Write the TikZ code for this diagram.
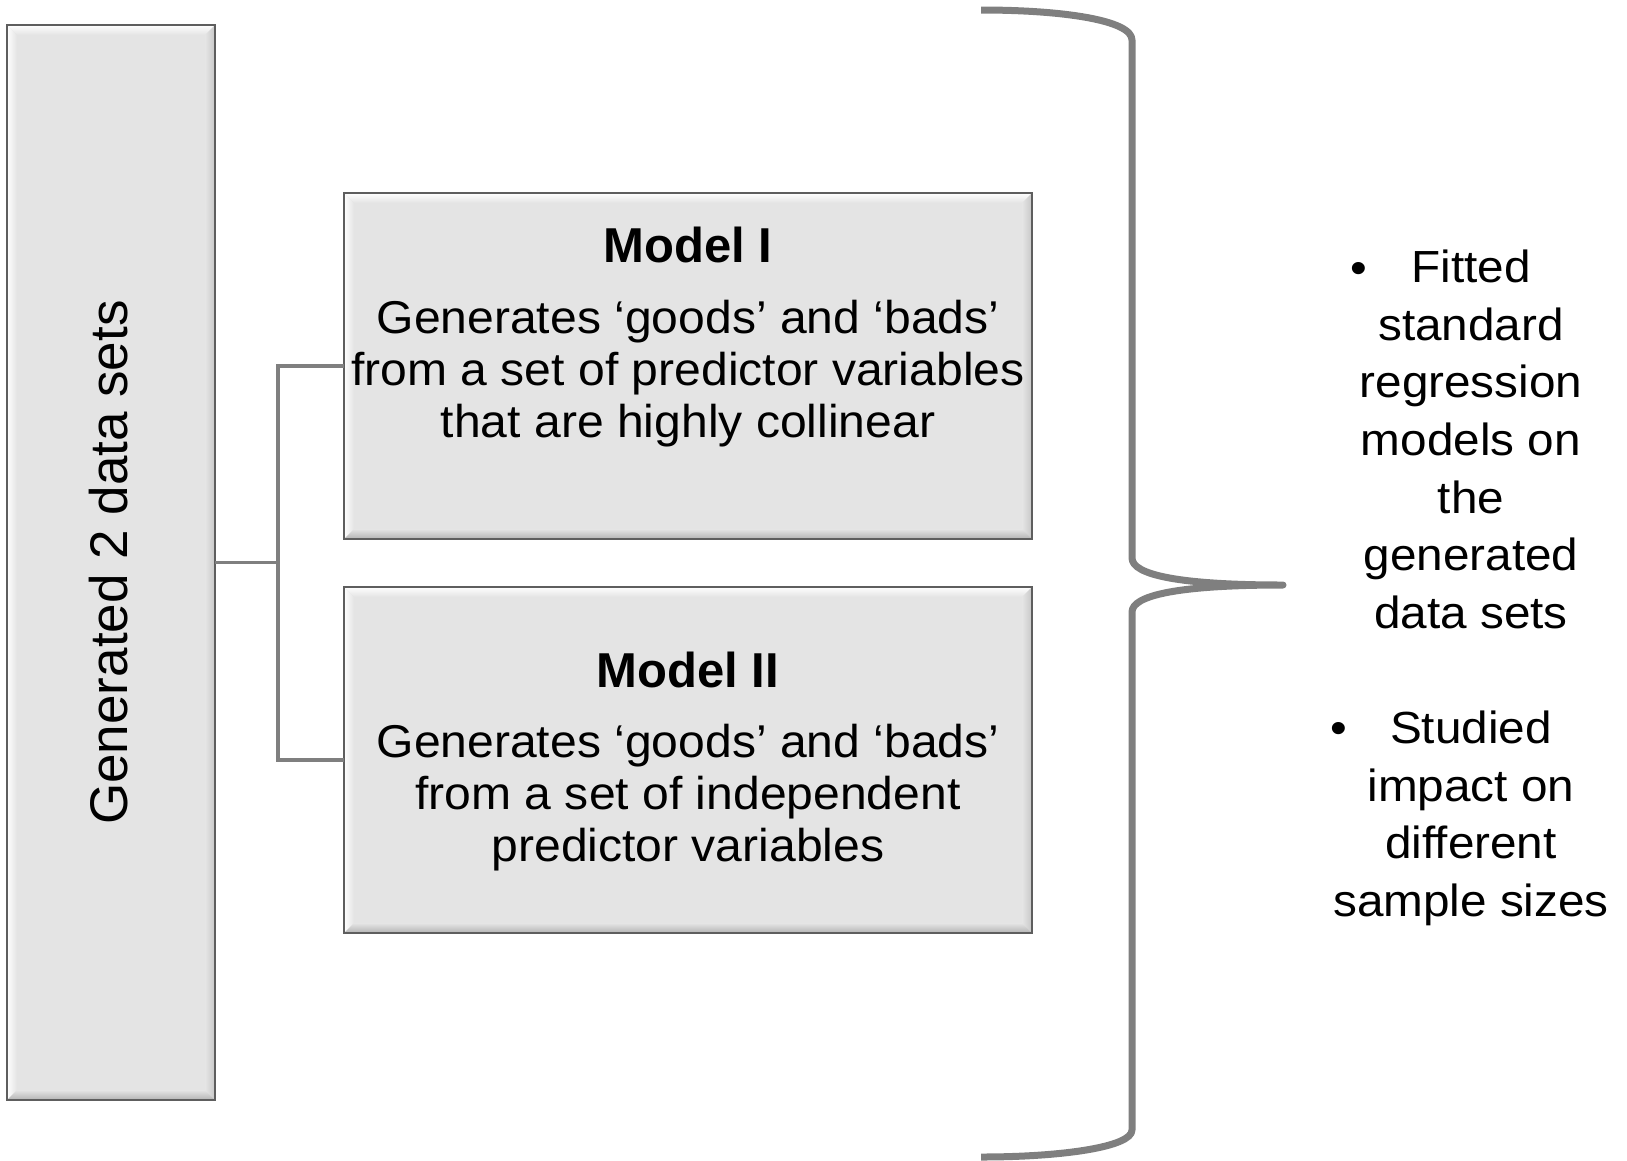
\documentclass[tikz,border=0pt]{standalone}
\usepackage{fontspec}
\setmainfont{Liberation Sans}
\newfontfamily\bodyfont[FakeStretch=1.045]{Liberation Sans}
\newfontfamily\notefont[FakeStretch=1.06]{Liberation Sans}
\usetikzlibrary{calc}

\definecolor{boxfill}{HTML}{E4E4E4}
\definecolor{boxline}{HTML}{5E5E5E}
\definecolor{linkgray}{HTML}{7F7F7F}

% bevelled edges of a panel node: #1 = bevel width, #2 = node name
\newcommand\bevelpanel[2][10]{%
  \shade[top color=white, bottom color=boxfill]
    (#2.north west) -- (#2.north east) -- ($(#2.north east)+(-#1,#1)$) -- ($(#2.north west)+(#1,#1)$) -- cycle;
  \shade[left color=white, right color=boxfill]
    (#2.north west) -- ($(#2.north west)+(#1,#1)$) -- ($(#2.south west)+(#1,-#1)$) -- (#2.south west) -- cycle;
  \shade[left color=boxfill, right color=black!22]
    (#2.north east) -- (#2.south east) -- ($(#2.south east)+(-#1,-#1)$) -- ($(#2.north east)+(-#1,#1)$) -- cycle;
  \shade[top color=boxfill, bottom color=black!30]
    (#2.south west) -- (#2.south east) -- ($(#2.south east)+(-#1,-#1)$) -- ($(#2.south west)+(#1,-#1)$) -- cycle;
  \draw[boxline, line width=2pt] (#2.north west) rectangle (#2.south east);
}

\begin{document}
\begin{tikzpicture}[x=1pt, y=-1pt,
  panel/.style={rectangle, fill=boxfill, draw=none, inner sep=0pt},
  link/.style={draw=linkgray, line width=3.5pt},
  bracestroke/.style={draw=linkgray, line width=7pt, line join=round},
  sidetext/.style={font=\fontsize{53}{60}\selectfont},
  titletext/.style={font=\fontsize{49}{56}\selectfont\bfseries},
  bodytext/.style={align=center, font=\bodyfont\fontsize{46}{52}\selectfont},
  notetext/.style={align=center, font=\notefont\fontsize{45}{57.7}\selectfont},
]
\useasboundingbox (0,0) rectangle (1627,1160);

% panels
\node[panel, minimum width=208pt, minimum height=1075pt] (gen) at (111,562.5) {};
\node[panel, minimum width=688pt, minimum height=346pt] (m1) at (688,366) {};
\node[panel, minimum width=688pt, minimum height=346pt] (m2) at (688,760) {};
\bevelpanel{gen}
\bevelpanel{m1}
\bevelpanel{m2}

% connectors from the data-set panel to both models
\coordinate (split) at (278,562.5);
\draw[link] (gen.east) -- (split) |- (m1.west);
\draw[link] (split) |- (m2.west);

% panel texts (multi-line nodes are anchored at the baseline of their last line)
\node[sidetext, rotate=90, anchor=base] (gentext) at (127,562.5) {Generated 2 data sets};

\node[titletext, anchor=base] (m1title) at (688,262) {Model I};
\node[bodytext, anchor=base] (m1body) at (688,437) {Generates ‘goods’ and ‘bads’\\from a set of predictor variables\\that are highly collinear};

\node[titletext, anchor=base] (m2title) at (688,687) {Model II};
\node[bodytext, anchor=base] (m2body) at (688,861.5) {Generates ‘goods’ and ‘bads’\\from a set of independent\\predictor variables};

% curly brace gathering both models
\coordinate (btop) at (981,10);
\coordinate (btip) at (1283,585);
\coordinate (bbot) at (981,1157);
\draw[bracestroke] (btop) .. controls (1062,10) and (1132,20) .. (1132,40)
  -- (1132,558) .. controls (1132,575) and (1180,585) .. (btip)
  .. controls (1180,585) and (1132,595) .. (1132,612)
  -- (1132,1130) .. controls (1132,1147) and (1062,1157) .. (bbot);

% bullet notes
\node[notetext, anchor=base] (b1) at (1359,283) {•};
\node[notetext, anchor=base] (fitted) at (1471,628.6) {Fitted\\standard\\regression\\models on\\the\\generated\\data sets};
\node[notetext, anchor=base] (b2) at (1338.5,743.5) {•};
\node[notetext, anchor=base] (studied) at (1471,916.6) {Studied\\impact on\\different\\sample sizes};
\end{tikzpicture}
\end{document}
